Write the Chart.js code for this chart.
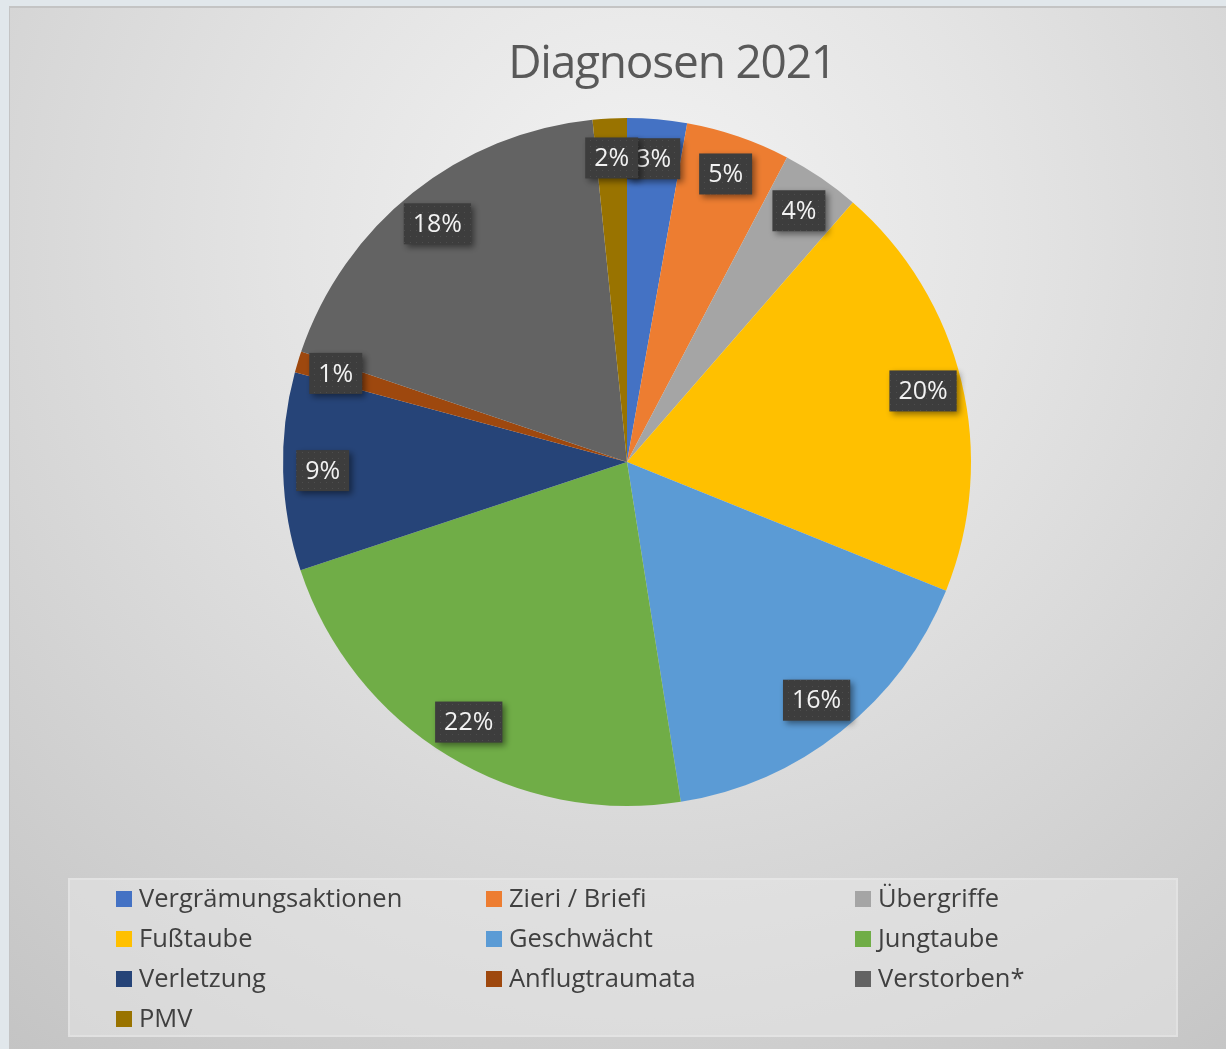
<!DOCTYPE html>
<html lang="de">
<head>
<meta charset="utf-8">
<title>Diagnosen 2021</title>
<script src="https://cdn.jsdelivr.net/npm/chart.js@4.4.1/dist/chart.umd.min.js"></script>
<style>
  html, body { margin: 0; padding: 0; }
  body { width: 1226px; height: 1049px; background: #e1e7eb; overflow: hidden; font-family: "Open Sans", sans-serif; }
  #frame {
    position: absolute; left: 9px; top: 6px; width: 1217px; height: 1043px;
    border-left: 1px solid #c4c4c4; border-top: 2px solid #c4c4c4;
    background: radial-gradient(circle farthest-corner at 52% 22%, #f3f3f3 0%, #e4e4e4 35%, #c4c4c4 100%);
  }
  #chart { position: absolute; left: 0; top: 0; }
  #title {
    position: absolute; left: 0; width: 1344px; top: 37px; text-align: center;
    font-size: 46px; line-height: 46px; letter-spacing: -1.2px; color: #595959; white-space: nowrap;
  }
  #legend {
    position: absolute; left: 68px; top: 878px; width: 1106px; height: 155px;
    background: rgba(234, 234, 234, 0.5); border: 2px solid rgba(236, 236, 236, 0.45);
  }
  .item { position: absolute; font-size: 25.5px; line-height: 26px; color: #404040; white-space: nowrap; }
  .item .sw { position: absolute; width: 16px; height: 16px; top: 7px; }
  .item .tx { position: absolute; top: 0; }
</style>
</head>
<body>
<div id="frame"></div>
<canvas id="chart" width="1226" height="1049"></canvas>
<div id="title">Diagnosen 2021</div>
<div id="legend"></div>
<script>
document.addEventListener("DOMContentLoaded", function () {
  // Kategorien und Anteile (in %)
  const categories = [
    "Vergrämungsaktionen", "Zieri / Briefi", "Übergriffe", "Fußtaube", "Geschwächt",
    "Jungtaube", "Verletzung", "Anflugtraumata", "Verstorben*", "PMV"
  ];
  const shares = [2.8, 4.9, 3.7, 19.7, 16.4, 22.4, 9.3, 1.0, 18.2, 1.6];
  const colors = [
    "#4472C4", "#ED7D31", "#A5A5A5", "#FFC000", "#5B9BD5",
    "#70AD47", "#264478", "#9E480E", "#636363", "#997300"
  ];

  // Punktmuster fuer die Datenbeschriftungen
  const pat = document.createElement("canvas");
  pat.width = 6; pat.height = 6;
  const pctx = pat.getContext("2d");
  pctx.fillStyle = "#3d3d3d";
  pctx.fillRect(0, 0, 6, 6);
  pctx.fillStyle = "#4e4e4e";
  pctx.fillRect(2, 2, 1, 1);

  const total = shares.reduce((a, b) => a + b, 0);

  /* ===== DATENBESCHRIFTUNGEN ===== */
  const labelPlugin = {
    id: "pctLabels",
    afterDatasetsDraw(chart) {
      const ctx = chart.ctx;
      const meta = chart.getDatasetMeta(0);
      ctx.save();
      ctx.font = "25px 'Open Sans'";
      ctx.textAlign = "center";
      ctx.textBaseline = "middle";
      meta.data.forEach((arc, i) => {
        const p = arc.getProps(["x", "y", "startAngle", "endAngle", "outerRadius"], true);
        const mid = (p.startAngle + p.endAngle) / 2;
        const r = p.outerRadius * 0.885;
        const cx = p.x + Math.cos(mid) * r;
        const cy = p.y + Math.sin(mid) * r;
        const text = Math.round(shares[i] / total * 100) + "%";
        const w = ctx.measureText(text).width + 18;
        const h = 41;
        ctx.save();
        ctx.shadowColor = "rgba(0,0,0,0.45)";
        ctx.shadowBlur = 6;
        ctx.shadowOffsetX = 3;
        ctx.shadowOffsetY = 3;
        ctx.fillStyle = ctx.createPattern(pat, "repeat");
        ctx.fillRect(cx - w / 2, cy - h / 2, w, h);
        ctx.restore();
        ctx.fillStyle = "#f2f2f2";
        ctx.fillText(text, cx, cy + 1);
      });
      ctx.restore();
    }
  };

  const ctx = document.getElementById("chart").getContext("2d");
  new Chart(ctx, {
    type: "pie",
    data: {
      labels: categories,
      datasets: [{
        data: shares,
        backgroundColor: colors,
        borderWidth: 0
      }]
    },
    options: {
      responsive: false,
      animation: false,
      layout: { padding: { left: 283, top: 118, right: 255, bottom: 243 } },
      plugins: {
        legend: { display: false },
        tooltip: { enabled: false }
      }
    },
    plugins: [labelPlugin]
  });

  /* ===== LEGENDE ===== */
  const legend = document.getElementById("legend");
  const colX = [46, 416, 785];
  categories.forEach((name, i) => {
    const col = i % 3;
    const row = Math.floor(i / 3);
    const item = document.createElement("div");
    item.className = "item";
    item.style.left = colX[col] + "px";
    item.style.top = (4 + row * 40) + "px";
    item.innerHTML = '<span class="sw"></span><span class="tx"></span>';
    item.querySelector(".sw").style.background = colors[i];
    item.querySelector(".tx").style.left = "23px";
    item.querySelector(".tx").textContent = name;
    legend.appendChild(item);
  });
});
</script>
</body>
</html>
